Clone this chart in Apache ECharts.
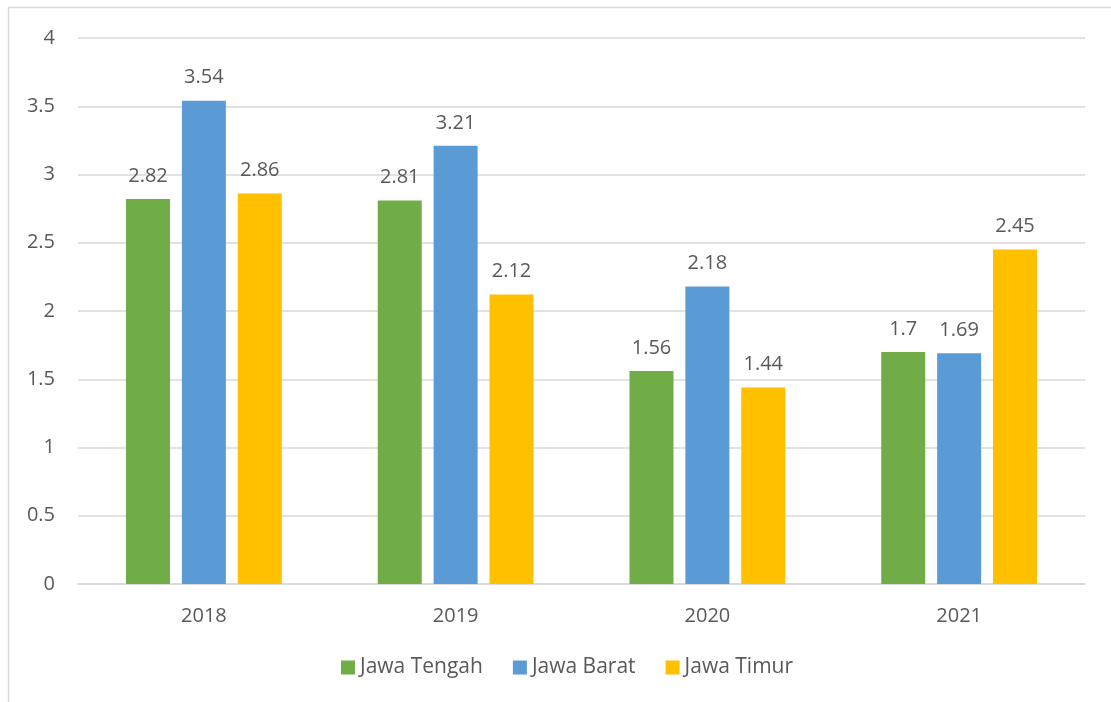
<!DOCTYPE html>
<html>
<head>
<meta charset="utf-8">
<script src="https://cdn.jsdelivr.net/npm/echarts@6/dist/echarts.min.js"></script>
<style>
  html, body { margin: 0; padding: 0; background: #fff; }
  #chart { width: 1111px; height: 702px; }
</style>
</head>
<body>
<div id="chart"></div>
<script>
// Years on the category axis
const years = ['2018', '2019', '2020', '2021'];
// Values per province
const jawaTengah = [2.82, 2.81, 1.56, 1.7];
const jawaBarat = [3.54, 3.21, 2.18, 1.69];
const jawaTimur = [2.86, 2.12, 1.44, 2.45];

const textColor = '#595959';
const fontFamily = '"Open Sans", "Liberation Sans", sans-serif';
const fontSize = 20;

function barSeries(name, data, color) {
  return {
    name: name,
    type: 'bar',
    data: data,
    barWidth: 44,
    barGap: '27%',
    itemStyle: { color: color },
    label: {
      show: true,
      position: 'top',
      distance: 13,
      color: textColor,
      fontSize: fontSize,
      fontFamily: fontFamily
    }
  };
}

const chart = echarts.init(document.getElementById('chart'));
chart.setOption({
  animation: false,
  backgroundColor: '#fff',
  graphic: [{
    type: 'rect',
    shape: { x: 8.5, y: 7.5, width: 1200, height: 800 },
    style: { fill: 'none', stroke: '#d9d9d9', lineWidth: 1.5 },
    silent: true
  }],
  grid: { left: 78, right: 26, top: 38, bottom: 118 },
  legend: {
    bottom: 19,
    left: 336,
    itemWidth: 14,
    itemHeight: 14,
    itemGap: 30,
    icon: 'rect',
    textStyle: { color: textColor, fontSize: 21, fontFamily: fontFamily },
    data: ['Jawa Tengah', 'Jawa Barat', 'Jawa Timur']
  },
  xAxis: {
    type: 'category',
    data: years,
    axisLine: { lineStyle: { color: '#d9d9d9', width: 1.5 } },
    axisTick: { show: false },
    axisLabel: { color: textColor, fontSize: fontSize, fontFamily: fontFamily, margin: 22 }
  },
  yAxis: {
    type: 'value',
    min: 0,
    max: 4,
    interval: 0.5,
    axisLine: { show: false },
    axisTick: { show: false },
    splitLine: { lineStyle: { color: '#d9d9d9', width: 1.5 } },
    axisLabel: { color: textColor, fontSize: fontSize, fontFamily: fontFamily, margin: 23 }
  },
  series: [
    barSeries('Jawa Tengah', jawaTengah, '#70ad47'),
    barSeries('Jawa Barat', jawaBarat, '#5b9bd5'),
    barSeries('Jawa Timur', jawaTimur, '#ffc000')
  ]
});
</script>
</body>
</html>
